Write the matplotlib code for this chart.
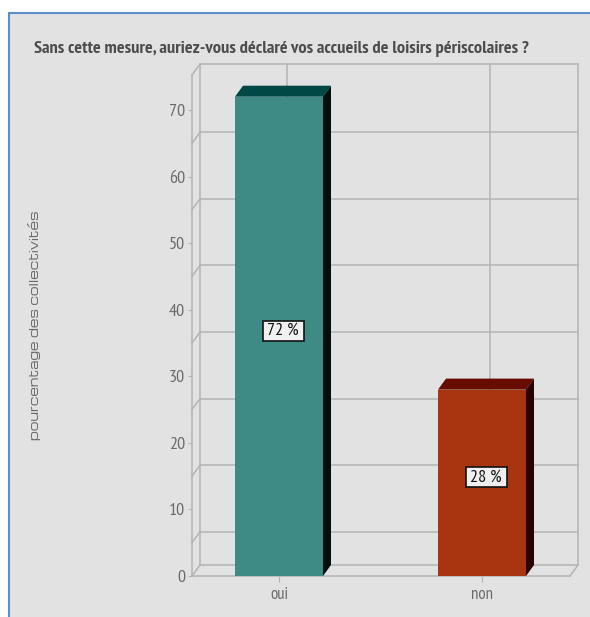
import matplotlib
matplotlib.use('Agg')
import matplotlib.pyplot as plt
from matplotlib.patches import Rectangle

# --- data ---
categories = ['oui', 'non']
values = [72, 28]
labels = ['72 %', '28 %']
y_ticks = [0, 10, 20, 30, 40, 50, 60, 70]
wall_lines = [5, 15, 25, 35, 45, 55, 65]

# --- style ---
W, H = 590, 617
front_colors = ['#3e8a84', '#a8350f']
top_colors = ['#004845', '#660c00']
side_colors = ['#020f0b', '#2b0000']
grid_col = '#b4b4b4'
text_col = '#6a6a6a'
narrow = ['PT Sans Narrow', 'Fira Sans Condensed', 'Roboto Condensed', 'Liberation Sans', 'DejaVu Sans']
wide = ['Michroma', 'DejaVu Sans']

fig = plt.figure(figsize=(W / 100, H / 100), dpi=100, facecolor='white')

# grey panel with the blue border on top and left
fig.add_artist(Rectangle((9 / W, -0.02), 1.1, 1.02 - 13 / H, transform=fig.transFigure,
                         facecolor='#e2e2e2', edgecolor='#5b8fc9', linewidth=1.5, zorder=-1))

# plot area in pixels: x 192-570, y 576-75
ax = fig.add_axes([192 / W, 1 - 576 / H, 378 / W, 501 / H])
ax.patch.set_visible(False)
for s in ax.spines.values():
    s.set_visible(False)

px_x = 203.0                # pixels per category
px_y = 6.657                # pixels per percent
ax.set_xlim((192 - 279) / px_x, (570 - 279) / px_x)
ax.set_ylim(0, 501 / px_y)
x0, x1 = ax.get_xlim()
ymax = ax.get_ylim()[1]

dx = 8 / px_x               # 3D depth
dy = 11 / px_y
bar_w = 88 / px_x

# walls and floor
kw = dict(color=grid_col, lw=1.1, clip_on=False, zorder=1)
ax.plot([x0, x0], [0, ymax], **kw)
ax.plot([x0 + dx, x0 + dx], [dy, ymax + dy], **kw)
ax.plot([x1 + dx, x1 + dx], [dy, ymax + dy], **kw)
ax.plot([x0 + dx, x1 + dx], [ymax + dy, ymax + dy], **kw)
ax.plot([x0, x0 + dx], [ymax, ymax + dy], **kw)
ax.plot([x0, x1], [0, 0], **kw)
ax.plot([x1, x1 + dx], [0, dy], **kw)
ax.plot([x0, x0 + dx], [0, dy], **kw)
ax.plot([x0 + dx, x1 + dx], [dy, dy], **kw)
for v in wall_lines:
    ax.plot([x0, x0 + dx], [v, v + dy], **kw)
    ax.plot([x0 + dx, x1 + dx], [v + dy, v + dy], **kw)
for i in range(len(categories)):
    ax.plot([i + dx, i + dx], [dy, ymax + dy], **kw)

# bars
xs = list(range(len(categories)))
ax.bar(xs, values, width=bar_w, color=front_colors, zorder=3)
box_w, box_h = 41 / px_x, 20 / px_y
for i, v in enumerate(values):
    l, r = i - bar_w / 2, i + bar_w / 2
    ax.fill([l, r, r + dx, l + dx], [v, v, v + dy, v + dy], color=top_colors[i], lw=0, zorder=3, clip_on=False)
    ax.fill([r, r + dx, r + dx, r], [0, dy, v + dy, v], color=side_colors[i], lw=0, zorder=3, clip_on=False)
    cx, cy = i + dx / 2, v / 2 + dy / 2
    ax.add_patch(Rectangle((cx - box_w / 2, cy - box_h / 2), box_w, box_h, facecolor='#f0f0f0',
                           edgecolor='#111111', linewidth=1.2, zorder=4))
    ax.text(cx, cy, labels[i], ha='center', va='center', fontsize=13, family=narrow,
            color='#111111', zorder=5)

# axes ticks
ax.set_xticks(xs, categories)
ax.set_yticks(y_ticks)
ax.tick_params(axis='x', length=4, color=grid_col, labelcolor=text_col, labelsize=12, pad=4)
ax.tick_params(axis='y', length=3, color=grid_col, labelcolor=text_col, labelsize=13, pad=2)
for t in ax.get_xticklabels() + ax.get_yticklabels():
    t.set_fontfamily(narrow)

title = fig.text(34 / W, 1 - 49 / H, 'Sans cette mesure, auriez-vous déclaré vos accueils de loisirs périscolaires ?',
                 ha='left', va='center', fontsize=13, fontweight='bold', color='#4d4d4d', family=narrow)
ylab = fig.text(34 / W, 1 - 325 / H, 'pourcentage des collectivités', rotation=90, ha='center', va='center',
                fontsize=8, color=text_col, family=wide)

# fit the two long texts to the lengths seen in the reference
rend = fig.canvas.get_renderer()
title.set_fontsize(title.get_fontsize() * 496 / title.get_window_extent(rend).width)
ylab.set_fontsize(ylab.get_fontsize() * 230 / ylab.get_window_extent(rend).height)

fig.savefig('out.png', dpi=100)
